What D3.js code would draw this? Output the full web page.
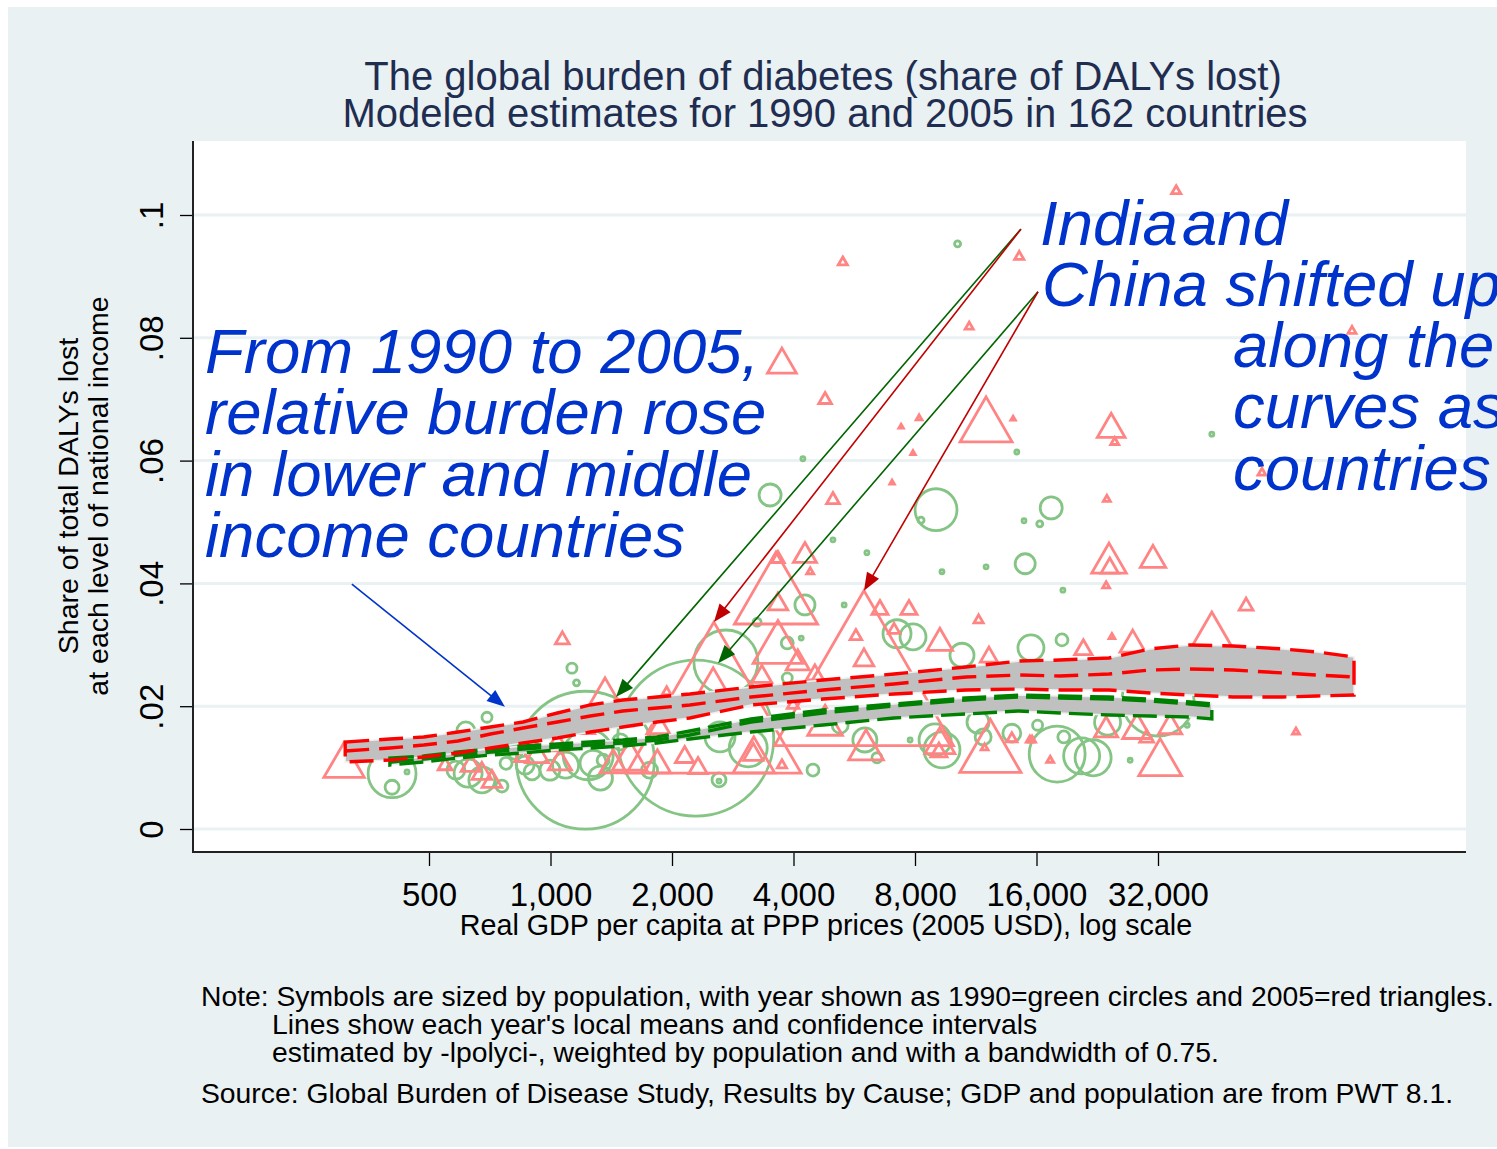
<!DOCTYPE html>
<html>
<head>
<meta charset="utf-8">
<script src="https://cdn.jsdelivr.net/npm/d3@7/dist/d3.min.js"></script>
<style>
  body { margin: 0; background: #fff; }
  svg { display: block; font-family: "Liberation Sans", Arial, sans-serif; }
</style>
</head>
<body>
<svg id="chart" width="1497" height="1149"></svg>
<script>
// axis ticks
const xTicks = [500, 1000, 2000, 4000, 8000, 16000, 32000];
const yTicks = [0, 0.02, 0.04, 0.06, 0.08, 0.1];
const yTickLabels = ["0", ".02", ".04", ".06", ".08", ".1"];

// 1990 countries (green circles): GDP per capita, share of DALYs, population (millions)
const gdp1990 = [10200, 4220, 3500, 9020, 8280, 17400, 16300, 14900, 14300, 43500, 5010, 6080, 15000, 12000, 9330, 18600, 5340, 4270, 3250, 3860,
  4180, 2720, 7220, 7910, 10460, 15500, 18500, 3860, 2290, 1220, 1240, 405, 405, 441, 617, 696, 1130, 1160, 625, 676,
  758, 776, 865, 900, 1090, 1275, 1330, 1350, 2615, 2630, 3090, 4470, 6010, 5220, 8970, 9330, 11460, 11800, 13900, 16100,
  18700, 18000, 20700, 22100, 24000, 32000, 27300, 37800, 7780, 2615, 6440, 997, 1490, 583, 817, 1760];
const share1990 = [0.0953, 0.0603, 0.0544, 0.0520, 0.0503, 0.0523, 0.0497, 0.0502, 0.0614, 0.0643, 0.0471, 0.0450, 0.0432, 0.0427, 0.0419, 0.0389, 0.0365, 0.0365, 0.0337, 0.0303,
  0.0311, 0.0272, 0.0318, 0.0313, 0.0283, 0.0295, 0.0308, 0.0246, 0.0148, 0.0112, 0.0121, 0.0090, 0.0068, 0.0093, 0.0160, 0.0182, 0.0262, 0.0238, 0.0091, 0.0080,
  0.0070, 0.0107, 0.0104, 0.0093, 0.0104, 0.0107, 0.0083, 0.0112, 0.0080, 0.0150, 0.0132, 0.0096, 0.0145, 0.0169, 0.0145, 0.0129, 0.0174, 0.0150, 0.0156, 0.0169,
  0.0150, 0.0122, 0.0119, 0.0116, 0.0174, 0.0210, 0.0112, 0.0169, 0.0145, 0.0078, 0.0116, 0.0096, 0.0142, 0.0096, 0.0125, 0.0096];
const pop1990 = [1.7, 0.75, 22.6, 82, 1.7, 22.6, 1.7, 0.75, 0.75, 0.75, 0.75, 0.75, 18.7, 0.75, 0.75, 0.75, 0.75, 18.7, 3, 6.7,
  0.75, 191, 36.6, 31.5, 26.9, 31.5, 6.7, 4.7, 1135, 888, 117, 107, 9.1, 0.75, 15, 4.7, 4.7, 1.7, 36.6, 31.5,
  6.7, 6.7, 15, 11.9, 31.5, 31.5, 26.9, 6.7, 9.1, 42, 67, 6.7, 26.9, 11.9, 47.8, 60.5, 22.6, 11.9, 15, 4.7,
  6.7, 146, 60.5, 60.5, 31.5, 242, 0.75, 0.75, 0.75, 0.75, 4.7, 18.7, 11.9, 15, 9.1, 11.9];

// 2005 countries (red triangles)
const gdp2005 = [35500, 5300, 14500, 10900, 96800, 3745, 4790, 12000, 24500, 25000, 57900, 5010, 23900, 24200, 24300, 31100, 23800, 52900, 43500, 27700,
  20900, 24600, 11500, 70300, 32400, 28400, 34300, 30000, 23800, 13900, 15400, 17300, 3620, 4270, 3660, 4400, 3660, 3660, 4100, 3340,
  4520, 2530, 5980, 2540, 6550, 7730, 5710, 5980, 7100, 9220, 12200, 12300, 6050, 9220, 9170, 3190, 3745, 15600, 11900, 4790,
  3990, 3180, 2320, 308, 548, 635, 676, 716, 597, 926, 1055, 1040, 1070, 1365, 1220, 1430, 1570, 1840, 2150, 1940,
  1850, 850, 8190, 7390, 7910, 7020, 14000];
const share2005 = [0.1039, 0.0923, 0.0932, 0.0818, 0.0811, 0.0756, 0.0699, 0.0655, 0.0651, 0.0630, 0.0580, 0.0536, 0.0537, 0.0433, 0.0425, 0.0438, 0.0396, 0.0363, 0.0272, 0.0300,
  0.0292, 0.0313, 0.0340, 0.0158, 0.0107, 0.0161, 0.0166, 0.0148, 0.0161, 0.0147, 0.0145, 0.0112, 0.0373, 0.0445, 0.0440, 0.0419, 0.0366, 0.0293, 0.0270, 0.0248,
  0.0251, 0.0220, 0.0220, 0.0173, 0.0357, 0.0357, 0.0314, 0.0275, 0.0324, 0.0303, 0.0280, 0.0121, 0.0129, 0.0137, 0.0125, 0.0111, 0.0104, 0.0145, 0.0132, 0.0169,
  0.0202, 0.0121, 0.0099, 0.0103, 0.0103, 0.0103, 0.0090, 0.0077, 0.0135, 0.0119, 0.0107, 0.0137, 0.0308, 0.0194, 0.0164, 0.0104, 0.0112, 0.0104, 0.0117, 0.0223,
  0.0166, 0.0117, 0.0669, 0.0655, 0.0612, 0.0564, 0.0668];
const pop2005 = [3.3, 3.3, 3.3, 2.5, 2.5, 32.3, 6.25, 104.6, 29.8, 2.5, 2.5, 6.25, 1.9, 46.5, 11.6, 25, 1.9, 7.4, 290, 25,
  11.6, 1.3, 3.3, 1.9, 70.7, 32.3, 20.7, 7.4, 20.7, 4.2, 1.9, 1.9, 268, 20.7, 6.25, 1.9, 14.9, 95.5, 20.7, 14.9,
  11.6, 78.6, 1241, 1178, 10.1, 10.1, 5.2, 14.9, 5.2, 25, 11.6, 145, 46.5, 34.9, 10.1, 67, 3.3, 1.9, 1.9, 46.5,
  5.2, 14.9, 13.2, 63.3, 7.4, 14.9, 14.9, 14.9, 8.7, 20.7, 20.7, 16.7, 7.4, 119, 13.2, 27.3, 46.5, 27.3, 13.2, 3.3,
  20.7, 8.7, 1.3, 0.8, 0.8, 0.8, 0.8];

// local means and confidence intervals
const fitGdp2005 = [310, 400, 485, 590, 710, 855, 1040, 1255, 1510, 1835, 2215, 3140, 4735, 7095, 10700, 14480, 18290, 24190, 30570, 38400, 49100, 65300, 79300, 97900];
const upper2005 = [0.01417, 0.01466, 0.01498, 0.01580, 0.01661, 0.01743, 0.01889, 0.02020, 0.02101, 0.02150, 0.02199, 0.02313, 0.02427, 0.02524, 0.02638, 0.02736, 0.02752, 0.02785, 0.02932, 0.02997, 0.02980, 0.02932, 0.02883, 0.02801];
const mean2005 = [0.01270, 0.01319, 0.01368, 0.01433, 0.01547, 0.01645, 0.01743, 0.01840, 0.01922, 0.01971, 0.02020, 0.02150, 0.02264, 0.02362, 0.02476, 0.02508, 0.02492, 0.02524, 0.02590, 0.02606, 0.02590, 0.02541, 0.02508, 0.02476];
const lower2005 = [0.01091, 0.01124, 0.01173, 0.01238, 0.01319, 0.01401, 0.01482, 0.01580, 0.01661, 0.01743, 0.01808, 0.02020, 0.02117, 0.02199, 0.02264, 0.02280, 0.02264, 0.02264, 0.02215, 0.02182, 0.02150, 0.02150, 0.02166, 0.02182];

const fitGdp1990 = [400, 485, 590, 710, 855, 1040, 1255, 1510, 1835, 2215, 3140, 4735, 7095, 10700, 14480, 18290, 24190, 30570, 38400, 43500];
const upper1990 = [0.01156, 0.01189, 0.01254, 0.01303, 0.01352, 0.01384, 0.01417, 0.01450, 0.01498, 0.01596, 0.01792, 0.01938, 0.02036, 0.02134, 0.02182, 0.02166, 0.02150, 0.02117, 0.02068, 0.02036];
const mean1990 = [0.01091, 0.01140, 0.01205, 0.01254, 0.01303, 0.01336, 0.01368, 0.01401, 0.01450, 0.01531, 0.01743, 0.01889, 0.02003, 0.02101, 0.02150, 0.02134, 0.02117, 0.02085, 0.02036, 0.02003];
const lower1990 = [0.01042, 0.01091, 0.01156, 0.01205, 0.01238, 0.01287, 0.01319, 0.01352, 0.01401, 0.01466, 0.01580, 0.01694, 0.01808, 0.01873, 0.01922, 0.01889, 0.01857, 0.01840, 0.01824, 0.01792];

// arrows: [startGdp, startShare, tipGdp, tipShare, colour]
const arrows = [
  [322, 0.0399, 771, 0.0199, "#0033cc"],
  [14640, 0.0977, 1453, 0.0215, "#006400"],
  [14640, 0.0977, 2541, 0.0337, "#c00000"],
  [16137, 0.0875, 2601, 0.0270, "#006400"],
  [16137, 0.0875, 5979, 0.0388, "#c00000"],
];

const plot = { left: 193, right: 1466, top: 141, bottom: 852 };
const svg = d3.select("#chart");

const x = d3.scaleLog().base(2).domain([500, 32000]).range([429, 1158]);
const y = d3.scaleLinear().domain([0, 0.1]).range([829, 215]);
const size = d3.scaleSqrt().domain([0, 1135]).range([0, 78]);

svg.append("rect").attr("x", 8).attr("y", 7).attr("width", 1489).attr("height", 1140).attr("fill", "#eaf1f3");
svg.append("rect").attr("x", plot.left).attr("y", plot.top)
  .attr("width", plot.right - plot.left).attr("height", plot.bottom - plot.top).attr("fill", "#fff");

svg.append("clipPath").attr("id", "plotclip").append("rect")
  .attr("x", plot.left).attr("y", plot.top).attr("width", plot.right - plot.left).attr("height", plot.bottom - plot.top);

// gridlines
svg.append("g").selectAll("line").data(yTicks).join("line")
  .attr("x1", plot.left).attr("x2", plot.right)
  .attr("y1", (d) => y(d)).attr("y2", (d) => y(d))
  .attr("stroke", "#eaf1f3").attr("stroke-width", 3);

// markers
const marks = svg.append("g").attr("clip-path", "url(#plotclip)");

marks.selectAll("circle").data(gdp1990).join("circle")
  .attr("cx", (d) => x(d))
  .attr("cy", (d, i) => y(share1990[i]))
  .attr("r", (d, i) => size(pop1990[i]))
  .attr("fill", "none").attr("stroke", "#84c484").attr("stroke-width", 2.8);

const triangle = (h) => {
  const w = h / Math.sqrt(3);
  return `M0,${-2 * h / 3}L${w},${h / 3}L${-w},${h / 3}Z`;
};

marks.selectAll("path.tri").data(gdp2005).join("path")
  .attr("class", "tri")
  .attr("transform", (d, i) => `translate(${x(d)},${y(share2005[i])})`)
  .attr("d", (d, i) => triangle(1.9 * size(pop2005[i])))
  .attr("fill", "none").attr("stroke", "#ff8484").attr("stroke-width", 2.8)
  .attr("stroke-linejoin", "miter");

// confidence bands
const drawBand = (gdps, upper, lower) => {
  const area = d3.area().x((d, i) => x(gdps[i])).y0((d, i) => y(lower[i])).y1((d) => y(d));
  svg.append("path").datum(upper).attr("d", area)
    .attr("fill", "#c0c0c0").attr("stroke", "#eef0f0").attr("stroke-width", 1.5);
};
const outlineBand = (gdps, upper, mean, lower, colour, dash) => {
  const pts = upper.map((v, i) => [x(gdps[i]), y(v)])
    .concat(lower.map((v, i) => [x(gdps[i]), y(v)]).reverse());
  svg.append("path").attr("d", d3.line()(pts) + "Z")
    .attr("fill", "none").attr("stroke", colour).attr("stroke-width", 3.4).attr("stroke-dasharray", dash);
  svg.append("path").attr("d", d3.line()(mean.map((v, i) => [x(gdps[i]), y(v)])))
    .attr("fill", "none").attr("stroke", colour).attr("stroke-width", 3.4).attr("stroke-dasharray", dash);
};
drawBand(fitGdp1990, upper1990, lower1990);
drawBand(fitGdp2005, upper2005, lower2005);
outlineBand(fitGdp1990, upper1990, mean1990, lower1990, "#008000", "24 8");
outlineBand(fitGdp2005, upper2005, mean2005, lower2005, "#ff0000", "24 10");

// axes
const yAxis = svg.append("g").attr("transform", `translate(${plot.left},0)`)
  .call(d3.axisLeft(y).tickValues(yTicks).tickSize(13).tickFormat((d, i) => yTickLabels[i]));
yAxis.select(".domain").remove();
yAxis.selectAll(".tick line").attr("stroke", "#000").attr("stroke-width", 1.3);
yAxis.selectAll(".tick text")
  .attr("transform", "rotate(-90)").attr("x", 0).attr("y", -30).attr("dy", 0)
  .attr("text-anchor", "middle").attr("fill", "#000")
  .style("font-size", "33px").style("font-family", "'Liberation Sans', Arial, sans-serif");

const xAxis = svg.append("g").attr("transform", `translate(0,${plot.bottom})`)
  .call(d3.axisBottom(x).tickValues(xTicks).tickSize(14).tickFormat(d3.format(",")));
xAxis.select(".domain").remove();
xAxis.selectAll(".tick line").attr("stroke", "#000").attr("stroke-width", 1.3);
xAxis.selectAll(".tick text").attr("y", 54).attr("dy", 0).attr("fill", "#000")
  .style("font-size", "33px").style("font-family", "'Liberation Sans', Arial, sans-serif");

svg.append("line").attr("x1", plot.left).attr("x2", plot.left).attr("y1", plot.top).attr("y2", plot.bottom + 1)
  .attr("stroke", "#222").attr("stroke-width", 2);
svg.append("line").attr("x1", plot.left - 1).attr("x2", plot.right).attr("y1", plot.bottom).attr("y2", plot.bottom)
  .attr("stroke", "#222").attr("stroke-width", 2);

// titles
const title = svg.append("text").attr("text-anchor", "middle").attr("fill", "#1f2d50").style("font-size", "40px");
title.append("tspan").attr("x", 823).attr("y", 90).text("The global burden of diabetes (share of DALYs lost)");
title.append("tspan").attr("x", 825).attr("y", 127).text("Modeled estimates for 1990 and 2005 in 162 countries");

svg.append("text").attr("x", 826).attr("y", 935).attr("text-anchor", "middle").style("font-size", "28.7px")
  .text("Real GDP per capita at PPP prices (2005 USD), log scale");

const yTitle = svg.append("g").attr("transform", "translate(0,496) rotate(-90)")
  .append("text").attr("text-anchor", "middle").style("font-size", "28.5px");
yTitle.append("tspan").attr("x", 0).attr("y", 78).text("Share of total DALYs lost");
yTitle.append("tspan").attr("x", 0).attr("y", 108).text("at each level of national income");

const note = svg.append("text").style("font-size", "28.3px");
note.append("tspan").attr("x", 201).attr("y", 1006)
  .text("Note: Symbols are sized by population, with year shown as 1990=green circles and 2005=red triangles.");
note.append("tspan").attr("x", 272).attr("y", 1034).text("Lines show each year's local means and confidence intervals");
note.append("tspan").attr("x", 272).attr("y", 1062).text("estimated by -lpolyci-, weighted by population and with a bandwidth of 0.75.");
note.append("tspan").attr("x", 201).attr("y", 1103)
  .text("Source: Global Burden of Disease Study, Results by Cause; GDP and population are from PWT 8.1.");

// arrows
arrows.forEach(([g0, s0, g1, s1, colour]) => {
  const x0 = x(g0), y0 = y(s0), x1 = x(g1), y1 = y(s1);
  const len = Math.hypot(x1 - x0, y1 - y0);
  const ux = (x1 - x0) / len, uy = (y1 - y0) / len;
  const hl = 18, hw = 7;
  svg.append("line").attr("x1", x0).attr("y1", y0)
    .attr("x2", x1 - ux * hl * 0.8).attr("y2", y1 - uy * hl * 0.8)
    .attr("stroke", colour).attr("stroke-width", 1.6);
  svg.append("path")
    .attr("d", `M${x1},${y1}L${x1 - ux * hl - uy * hw},${y1 - uy * hl + ux * hw}L${x1 - ux * hl + uy * hw},${y1 - uy * hl - ux * hw}Z`)
    .attr("fill", colour);
});

// annotations
const note1 = svg.append("text").attr("fill", "#0033cc").style("font-size", "63.5px").style("font-style", "italic");
["From 1990 to 2005,", "relative burden rose", "in lower and middle", "income countries"].forEach((t, i) => {
  note1.append("tspan").attr("x", 205).attr("y", 373 + i * 61.3).text(t);
});

const note2 = svg.append("text").attr("fill", "#0033cc").style("font-size", "63.5px").style("font-style", "italic");
note2.append("tspan").attr("x", 1040).attr("y", 245).text("India");
note2.append("tspan").attr("x", 1182).attr("y", 245).text("and");
note2.append("tspan").attr("x", 1042).attr("y", 306).text("China shifted up");
["along the", "curves as", "countries"].forEach((t, i) => {
  note2.append("tspan").attr("x", 1233).attr("y", 367 + i * 61.3).text(t);
});
</script>
</body>
</html>
